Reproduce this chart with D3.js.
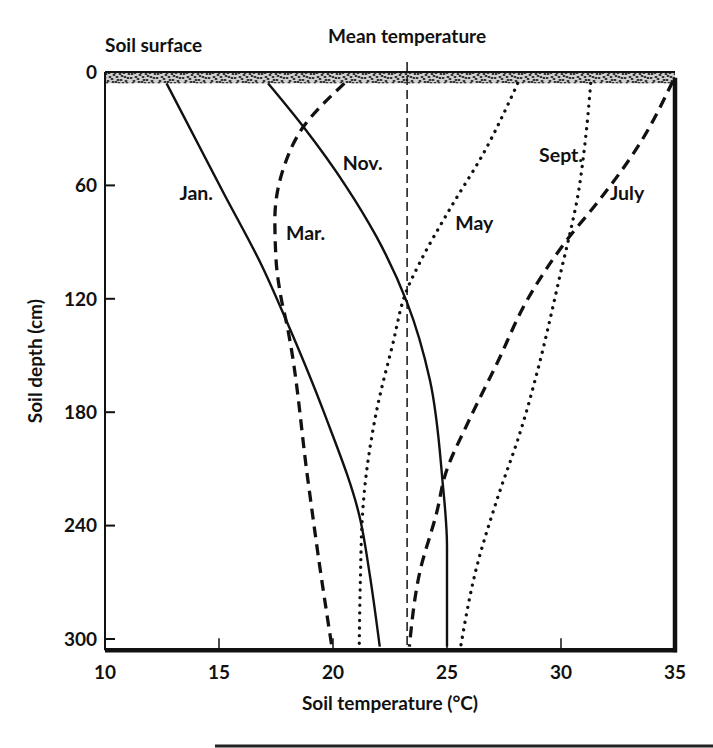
<!DOCTYPE html>
<html>
<head>
<meta charset="utf-8">
<script src="https://cdn.jsdelivr.net/npm/d3@7"></script>
<style>
  body { margin: 0; background: #fff; }
  text { font-family: Lato, "Open Sans", sans-serif; fill: #111; font-weight: 700; }
</style>
</head>
<body>
<script>
// soil temperature (°C) vs depth (cm)
var jan  = [[12.7,6],[15.2,64],[16.9,103],[17.9,130],[19.6,180],[21.2,237],[21.6,265],[22.05,304]];
var mar  = [[20.5,6],[18.7,29],[17.8,52],[17.45,78],[17.5,99],[17.7,118],[18.0,135],[18.9,216],[19.4,260],[19.95,304]];
var may  = [[28.1,6],[26.6,43],[25.1,73],[23.8,101],[23.25,115],[22.6,145],[21.9,180],[21.3,233],[21.2,269],[21.15,304]];
var july = [[34.9,5],[33.45,38],[31.6,69],[30.25,89],[28.5,121],[27.2,154],[25.9,186],[24.95,212],[24.55,233],[23.8,265],[23.35,304]];
var sept = [[31.3,6],[31.05,38],[30.7,68],[30.4,85],[29.95,108],[29.65,124],[29.1,152],[28.2,191],[27.2,226],[26.3,262],[25.6,304]];
var nov  = [[17.15,6],[18.7,29],[20.6,61],[21.9,87],[23.25,122],[24.25,163],[24.8,216],[25.0,251],[25.0,304]];
var meanTemp = 23.25;

var xTicks = [10, 15, 20, 25, 30, 35];
var yTicks = [0, 60, 120, 180, 240, 300];

var width = 713, height = 748;

var svg = d3.select("body").append("svg")
    .attr("width", width)
    .attr("height", height);

var x = d3.scaleLinear().domain([10, 35]).range([105, 675]);
var y = d3.scaleLinear().domain([0, 300]).range([72, 639]);
var bottomDepth = 306;

// stipple for the soil surface band
var pat = svg.append("defs").append("pattern")
    .attr("id", "stipple")
    .attr("patternUnits", "userSpaceOnUse")
    .attr("width", 26).attr("height", 12);
pat.append("rect").attr("width", 26).attr("height", 12).attr("fill", "#cfcfcf");
var specks = [[2,2],[6,5],[10,3],[14,8],[18,4],[22,9],[4,9],[12,10],[20,1],[24,6],[8,7],[16,2],
              [1,6],[5,1],[9,10],[13,5],[17,8],[21,5],[25,2],[11,1],[23,11],[3,11],[15,11],[19,11]];
pat.selectAll("ellipse").data(specks).enter().append("ellipse")
    .attr("cx", function(d) { return d[0]; })
    .attr("cy", function(d) { return d[1]; })
    .attr("rx", 1.5).attr("ry", 0.9)
    .attr("fill", "#222");

svg.append("rect")
    .attr("x", x(10)).attr("y", y(0))
    .attr("width", x(35) - x(10))
    .attr("height", y(6) - y(0))
    .attr("fill", "url(#stipple)");

// frame
svg.append("line")
    .attr("x1", x(10)).attr("x2", x(35))
    .attr("y1", y(0)).attr("y2", y(0))
    .attr("stroke", "#111").attr("stroke-width", 2);
svg.append("line")
    .attr("x1", x(10)).attr("x2", x(10))
    .attr("y1", y(0)).attr("y2", y(bottomDepth))
    .attr("stroke", "#111").attr("stroke-width", 2);
svg.append("line")
    .attr("x1", x(35)).attr("x2", x(35))
    .attr("y1", y(3)).attr("y2", y(bottomDepth) + 2)
    .attr("stroke", "#111").attr("stroke-width", 4.5);
svg.append("line")
    .attr("x1", x(10)).attr("x2", x(35) + 2)
    .attr("y1", y(bottomDepth)).attr("y2", y(bottomDepth))
    .attr("stroke", "#111").attr("stroke-width", 4.5);

// ticks (inward)
svg.selectAll(".ytick").data(yTicks).enter().append("line")
    .attr("x1", x(10)).attr("x2", x(10) + 10)
    .attr("y1", function(d) { return y(d); })
    .attr("y2", function(d) { return y(d); })
    .attr("stroke", "#111").attr("stroke-width", 2);
svg.selectAll(".ylab").data(yTicks).enter().append("text")
    .attr("x", x(10) - 8)
    .attr("y", function(d) { return y(d); })
    .attr("dy", "0.36em")
    .attr("text-anchor", "end")
    .attr("font-size", "19px")
    .text(function(d) { return d; });

svg.selectAll(".xtick").data(xTicks.slice(1, -1)).enter().append("line")
    .attr("x1", function(d) { return x(d); })
    .attr("x2", function(d) { return x(d); })
    .attr("y1", y(bottomDepth)).attr("y2", y(bottomDepth) - 12)
    .attr("stroke", "#111").attr("stroke-width", 1.5);
svg.selectAll(".xlab").data(xTicks).enter().append("text")
    .attr("x", function(d) { return x(d); })
    .attr("y", 679)
    .attr("text-anchor", "middle")
    .attr("font-size", "19px")
    .text(function(d) { return d; });

// mean temperature line
svg.append("line")
    .attr("x1", x(meanTemp)).attr("x2", x(meanTemp))
    .attr("y1", 62).attr("y2", y(bottomDepth))
    .attr("stroke", "#111").attr("stroke-width", 1.5)
    .attr("stroke-dasharray", "9,5");

var line = d3.line()
    .x(function(d) { return x(d[0]); })
    .y(function(d) { return y(d[1]); })
    .curve(d3.curveMonotoneY);

var series = [
  { data: jan,  style: "solid" },
  { data: nov,  style: "solid" },
  { data: mar,  style: "dash" },
  { data: july, style: "dash" },
  { data: may,  style: "dot" },
  { data: sept, style: "dot" }
];

series.forEach(function(s) {
  var p = svg.append("path")
      .attr("d", line(s.data))
      .attr("fill", "none")
      .attr("stroke", "#111");
  if (s.style === "solid") {
    p.attr("stroke-width", 2.4);
  } else if (s.style === "dash") {
    p.attr("stroke-width", 3.3).attr("stroke-dasharray", "11,7");
  } else {
    p.attr("stroke-width", 3.3).attr("stroke-linecap", "round")
     .attr("stroke-dasharray", "0.1,7.5");
  }
});

// curve labels
var labels = [
  { t: "Jan.",  x: 14.0, d: 64 },
  { t: "Mar.",  x: 18.8, d: 85 },
  { t: "Nov.",  x: 21.3, d: 48 },
  { t: "May",   x: 26.2, d: 80 },
  { t: "Sept.", x: 30.0, d: 44 },
  { t: "July",  x: 32.9, d: 64 }
];
svg.selectAll(".mlab").data(labels).enter().append("text")
    .attr("x", function(d) { return x(d.x); })
    .attr("y", function(d) { return y(d.d); })
    .attr("dy", "0.36em")
    .attr("text-anchor", "middle")
    .attr("font-size", "19.5px")
    .text(function(d) { return d.t; });

// titles
svg.append("text")
    .attr("x", 105).attr("y", 52)
    .attr("font-size", "19px")
    .text("Soil surface");
svg.append("text")
    .attr("x", x(meanTemp)).attr("y", 43)
    .attr("text-anchor", "middle")
    .attr("font-size", "19px")
    .text("Mean temperature");
svg.append("text")
    .attr("x", 390).attr("y", 710)
    .attr("text-anchor", "middle")
    .attr("font-size", "19px")
    .text("Soil temperature (°C)");
svg.append("text")
    .attr("transform", "translate(42," + y(153) + ") rotate(-90)")
    .attr("text-anchor", "middle")
    .attr("font-size", "19px")
    .text("Soil depth (cm)");

// page rule at the bottom of the scan
svg.append("line")
    .attr("x1", 215).attr("x2", 713)
    .attr("y1", 746).attr("y2", 746)
    .attr("stroke", "#222").attr("stroke-width", 3);
</script>
</body>
</html>
